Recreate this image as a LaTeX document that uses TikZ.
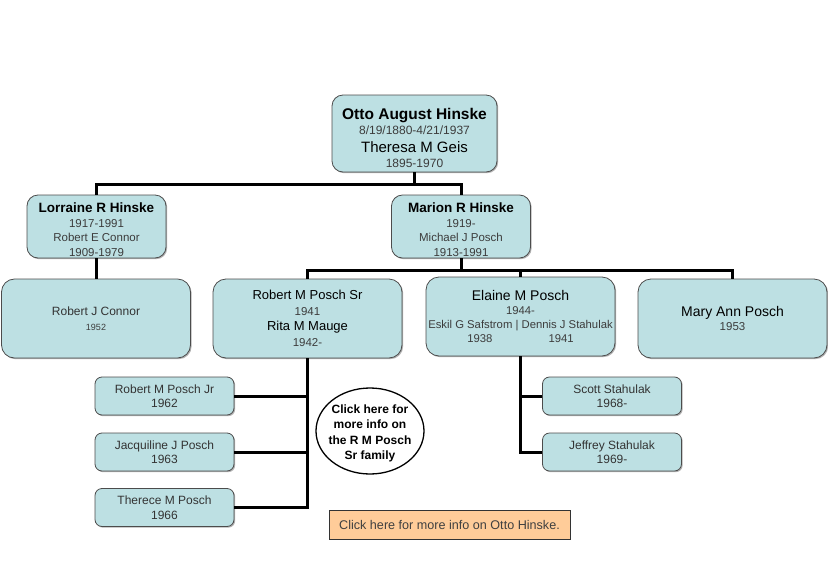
\documentclass[tikz,border=0pt]{standalone}
\usepackage{fontspec}
\setmainfont{Liberation Sans}
\usetikzlibrary{shapes.geometric,shadows}
\definecolor{boxfill}{RGB}{189,224,227}
\definecolor{orangefill}{RGB}{255,204,153}
\definecolor{datecol}{RGB}{60,60,60}
\newcommand\dt[1]{{\color{datecol}#1}}
\begin{document}
\begin{tikzpicture}[x=1pt,y=-1pt,
  box/.style={draw=black!70, line width=0.8pt, fill=boxfill, rounded corners=11pt,
    align=center, inner sep=0pt,
    drop shadow={shadow xshift=1.2pt, shadow yshift=-1.2pt, fill=black!60},
    font=\fontsize{11.5}{14.5}\selectfont},
  midbox/.style={box, minimum width=139pt, minimum height=63pt},
  bigbox/.style={box, rounded corners=13pt, minimum width=189pt, minimum height=79pt},
  kidbox/.style={box, rounded corners=7pt, minimum width=139pt, minimum height=38pt,
    text=black!80, font=\fontsize{12}{14.5}\selectfont},
  conn/.style={line width=3pt, black}]
\useasboundingbox (0,0) rectangle (828,576);

\node[box, minimum width=165pt, minimum height=77pt, font=\fontsize{12}{15.5}\selectfont] (otto) at (414.5,133.5)
  {\rule{0pt}{20pt}{\fontsize{15.5}{15.5}\selectfont\bfseries Otto August Hinske}\\
   \dt{8/19/1880-4/21/1937}\\[2pt]
   {\fontsize{15}{15}\selectfont Theresa M Geis}\\
   \dt{1895-1970}};

\node[midbox] (lorraine) at (96.5,226.5)
  {\rule{0pt}{16pt}{\fontsize{13.5}{13.5}\selectfont\bfseries Lorraine R Hinske}\\
   \dt{1917-1991}\\ \dt{Robert E Connor}\\ \dt{1909-1979}};
\node[midbox] (marion) at (461,226.5)
  {\rule{0pt}{16pt}{\fontsize{13.5}{13.5}\selectfont\bfseries Marion R Hinske}\\
   \dt{1919-}\\ \dt{Michael J Posch}\\ \dt{1913-1991}};

\node[bigbox] (rjc) at (96,318.5)
  {{\color{black!80}\fontsize{12}{12}\selectfont Robert J Connor}\\
   {\fontsize{9}{9}\selectfont\dt{1952}}};
\node[bigbox, font=\fontsize{11.5}{15.5}\selectfont] (possr) at (307.5,318.5)
  {{\fontsize{13}{13}\selectfont Robert M Posch Sr}\\ \dt{1941}\\
   {\fontsize{13}{13}\selectfont Rita M Mauge}\\ \dt{1942-}};
\node[bigbox, font=\fontsize{11.3}{14}\selectfont] (elaine) at (520.5,316.5)
  {{\fontsize{14}{14}\selectfont Elaine M Posch}\\ \dt{1944-}\\
   \dt{Eskil G Safstrom | Dennis J Stahulak}\\
   \dt{1938\hspace{56pt}1941}};
\node[bigbox] (mary) at (732.5,318.5)
  {{\fontsize{14}{14}\selectfont Mary Ann Posch}\\ \dt{1953}};

\node[kidbox] (rmpjr) at (164.5,396) {Robert M Posch Jr\\1962};
\node[kidbox] (jacq) at (164.5,452) {Jacquiline J Posch\\1963};
\node[kidbox] (therece) at (164.5,507.5) {Therece M Posch\\1966};
\node[kidbox] (scott) at (612,396) {Scott Stahulak\\1968-};
\node[kidbox] (jeffrey) at (612,452) {Jeffrey Stahulak\\1969-};

\node[draw, ellipse, line width=1.3pt, minimum width=108pt, minimum height=86pt,
  inner xsep=-7pt, inner ysep=-2pt, align=center, font=\bfseries\fontsize{12}{15.5}\selectfont]
  (info) at (370,431) {\rule{0pt}{13pt}Click here for\\more info on\\the R M Posch\\Sr family};

\node[draw=black!80, line width=0.8pt, fill=orangefill, minimum width=241pt,
  minimum height=29pt, inner sep=0pt, text=black!75, font=\fontsize{12.6}{12.6}\selectfont,
  drop shadow={shadow xshift=1.2pt, shadow yshift=-1.2pt, fill=black!60}]
  (ottoinfo) at (449.5,524.5) {Click here for more info on Otto Hinske.};

\coordinate (j1) at (414.5,184);
\draw[conn] (otto.south) -- (j1);
\draw[conn] (lorraine.north) |- (j1) -| (marion.north);
\draw[conn] (lorraine.south) -- (lorraine.south |- rjc.north);
\coordinate (j2) at (461,270);
\draw[conn] (marion.south) -- (j2);
\draw[conn] (possr.north) |- (j2) -| (mary.north);
\draw[conn] (elaine.north) -- (elaine.north |- j2);
\draw[conn] (possr.south) |- (therece.east);
\draw[conn] (rmpjr.east) -- (rmpjr.east -| possr.south);
\draw[conn] (jacq.east) -- (jacq.east -| possr.south);
\draw[conn] (elaine.south) |- (jeffrey.west);
\draw[conn] (scott.west) -- (scott.west -| elaine.south);
\end{tikzpicture}
\end{document}
